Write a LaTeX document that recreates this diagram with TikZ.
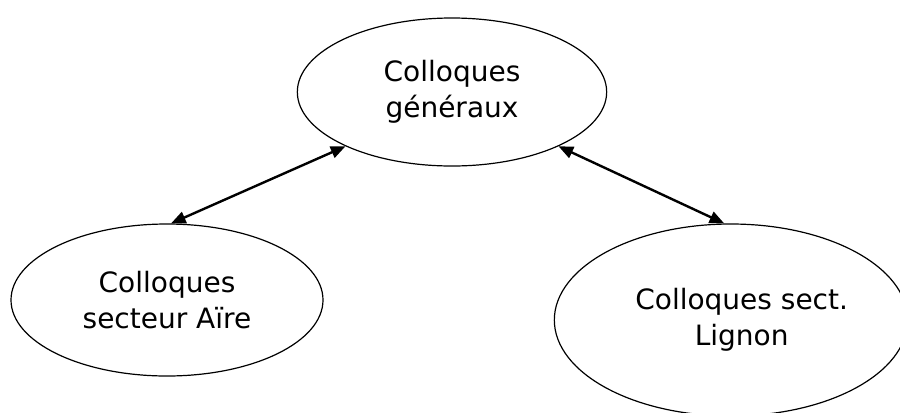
\documentclass[tikz,border=0pt]{standalone}
\usepackage{fontspec}
\setmainfont{DejaVu Sans}
\usetikzlibrary{shapes.geometric,positioning,arrows.meta}

\begin{document}
\begin{tikzpicture}[x=0.75pt,y=-0.75pt,
    bulle/.style={draw, ellipse, line width=0.9pt, inner sep=0pt, align=center, font=\fontsize{21}{27}\selectfont},
    lien/.style={{Triangle[length=11pt,width=9pt]}-{Triangle[length=11pt,width=9pt]}, line width=1.8pt}]
    \useasboundingbox (0,0) rectangle (900,412);
    \clip (0,0) rectangle (900,412);
    % Colloques
    \node[bulle, minimum width=232pt, minimum height=111pt] (gen) at (452,92) {Colloques\\généraux};
    \node[bulle, minimum width=234pt, minimum height=114pt] (aire) at (167,300) {Colloques\\secteur Aïre};
    \node[bulle, minimum width=265pt, minimum height=144pt] (lig) at (731,320) {\hspace*{16pt}Colloques sect.\\\hspace*{16pt}Lignon};

    \draw[lien] (gen.207) -- (aire.87);
    \draw[lien] (gen.333) -- (lig.94);
\end{tikzpicture}
\end{document}
